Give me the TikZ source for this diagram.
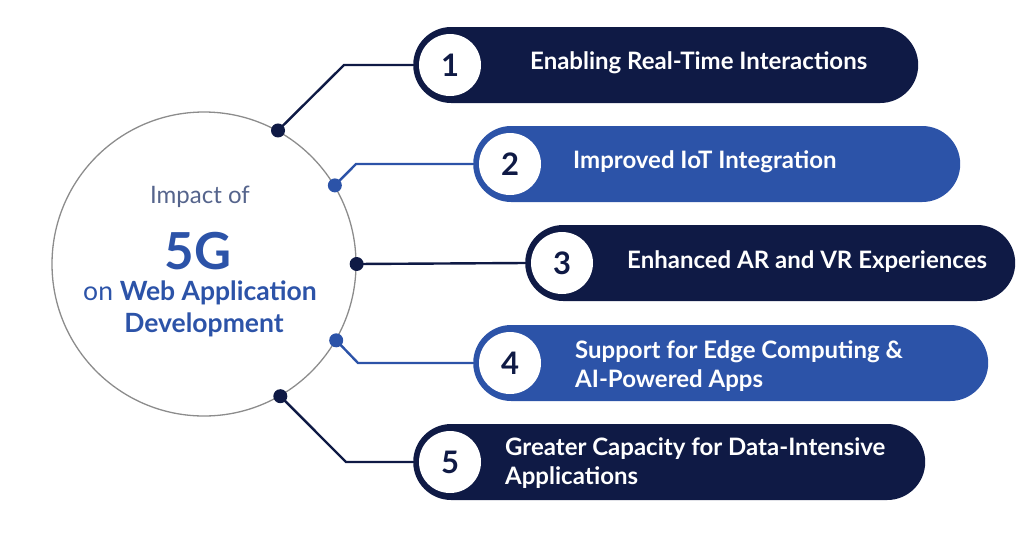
\documentclass[tikz,border=0pt]{standalone}
\usepackage{fontspec}
\setmainfont{Lato}
\usepackage{xcolor}
\usepackage{tikz}
\definecolor{navy}{HTML}{0F1A45}
\definecolor{royal}{HTML}{2C53A8}
\definecolor{ring}{HTML}{8C8C8C}
\definecolor{slate}{HTML}{55648C}

\begin{document}
\begin{tikzpicture}[x=1pt, y=-1pt,
    pill/.style={rounded corners=38pt, minimum height=76pt, inner sep=0pt, anchor=west},
    badge/.style={circle, fill=white, minimum size=62pt, inner sep=0pt, text=navy, font=\fontsize{31}{31}\selectfont\bfseries},
    itemtext/.style={anchor=west, align=left, inner sep=0pt, text=white, font=\fontsize{24}{29}\selectfont\bfseries},
    dot/.style={circle, minimum size=14pt, inner sep=0pt},
    link/.style={line width=2.4pt}]
    \useasboundingbox (0,0) rectangle (1024,536);

    \node (hub) [circle, draw=ring, line width=1.3pt, minimum size=304pt] at (204,264) {};
    \node (imp) [text=slate, font=\fontsize{24}{24}\selectfont] at (200,197) {Impact of};
    \node (fiveg) [text=royal, font=\fontsize{51}{51}\selectfont\bfseries] at (198,251) {5G};
    \node (onweb) [text=royal, font=\fontsize{26.5}{26.5}\selectfont] at (200,293) {on \textbf{Web Application}};
    \node (dev) [text=royal, font=\fontsize{26.5}{26.5}\selectfont\bfseries] at (204,325) {Development};

    \foreach \i/\y/\x/\w/\col in {1/65/413/505/navy, 2/164/473/487/royal, 3/263/525/490/navy,
                                  4/363/473/515/royal, 5/462/413/512/navy} {
        \node (p\i) [pill, fill=\col, minimum width=\w pt] at (\x,\y) {};
        \node (n\i) [badge] at ([xshift=37pt]p\i.west) {\i};
    }

    \node (t1) [itemtext] at (530,63) {Enabling Real-Time Interactions};
    \node (t2) [itemtext] at (573,162) {Improved IoT Integration};
    \node (t3) [itemtext] at (627,262) {Enhanced AR and VR Experiences};
    \node (t4) [itemtext] at (575,366) {Support for Edge Computing \&\\AI-Powered Apps};
    \node (t5) [itemtext] at (505,463) {Greater Capacity for Data-Intensive\\Applications};

    \foreach \i/\a/\col in {1/61/navy, 2/31/royal, 3/0/navy, 4/-30/royal, 5/-60/navy} {
        \node (d\i) [dot, fill=\col] at (hub.\a) {};
    }

    \coordinate (k1) at (344,65);
    \coordinate (k2) at (356,164);
    \coordinate (k4) at (358,363);
    \coordinate (k5) at (346,462);

    \draw[link, navy] (d1.center) -- (k1) -- (p1.west);
    \draw[link, royal] (d2.center) -- (k2) -- (p2.west);
    \draw[link, navy] (d3.center) -- (p3.west);
    \draw[link, royal] (d4.center) -- (k4) -- (p4.west);
    \draw[link, navy] (d5.center) -- (k5) -- (p5.west);
\end{tikzpicture}
\end{document}
